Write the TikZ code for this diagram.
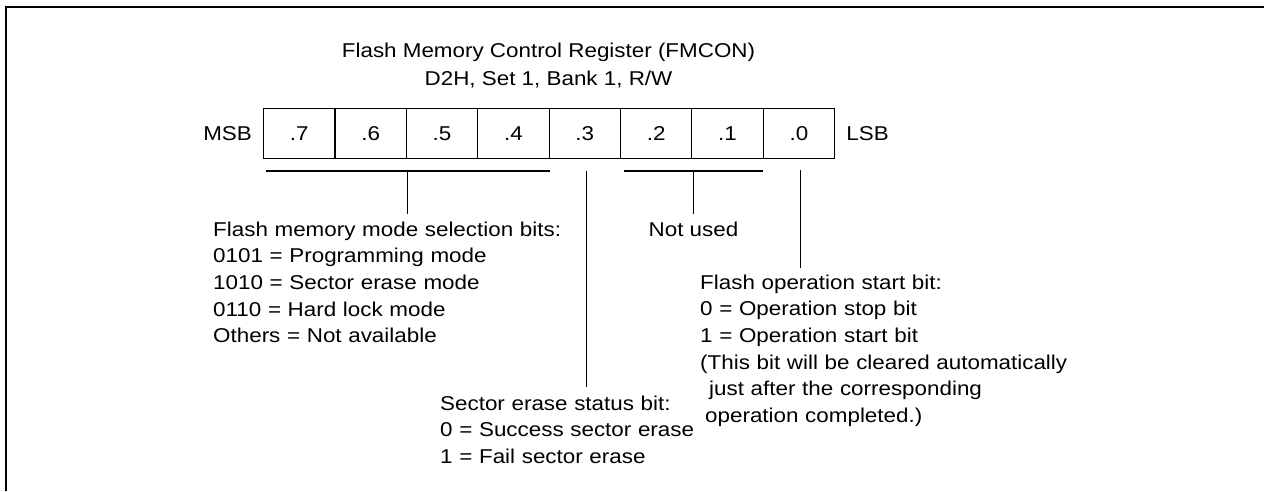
\documentclass[tikz,border=0pt]{standalone}
\usepackage{fontspec}
\setmainfont[FakeStretch=1.12]{Liberation Sans}
\begin{document}
\begin{tikzpicture}[x=1pt,y=-1pt,
  cell/.style={draw, line width=1.2pt, minimum width=71.375pt, minimum height=50pt, inner sep=0pt, anchor=north west, font=\fontsize{20}{24}\selectfont},
  lbl/.style={inner sep=0pt, font=\fontsize{20}{26.7}\selectfont},
  blk/.style={lbl, anchor=base west, align=left, text width=420pt},
  wire/.style={line width=1.2pt}]
\useasboundingbox (0,0) rectangle (1264,491);
\draw[line width=2pt] (6,491) -- (6,7) -- (1264,7);
% title
\node[lbl, anchor=base] (t1) at (548.5,57) {Flash Memory Control Register (FMCON)};
\node[lbl, anchor=base] (t2) at (548.5,85) {D2H, Set 1, Bank 1, R/W};
% register cells
\foreach \i/\b in {0/7,1/6,2/5,3/4,4/3,5/2,6/1,7/0}
  \node[cell] (c\b) at ({263+\i*71.375},108) {.\b};
\node[lbl, anchor=east] (msb) at ([xshift=-11pt]c7.west) {MSB};
\node[lbl, anchor=west] (lsb) at ([xshift=11pt]c0.east) {LSB};
% connector coordinates
\coordinate (b1l) at (265.5,171);
\coordinate (b1r) at (549.5,171);
\coordinate (b1m) at (407.5,171);
\coordinate (b1e) at (407.5,214);
\coordinate (b3t) at (586.5,171);
\coordinate (b3e) at (586.5,387);
\coordinate (b2l) at (623.5,171);
\coordinate (b2r) at (763,171);
\coordinate (b2m) at (693.5,171);
\coordinate (b2e) at (693.5,214);
\coordinate (b0t) at (800.5,170);
\coordinate (b0e) at (800.5,268);
\draw[wire] (b1l) -- (b1r);
\draw[wire] (b1m) -- (b1e);
\draw[wire] (b3t) -- (b3e);
\draw[wire] (b2l) -- (b2r);
\draw[wire] (b2m) -- (b2e);
\draw[wire] (b0t) -- (b0e);
% descriptions
\node[blk] (modes) at (213,236) {Flash memory mode selection bits:\\0101 = Programming mode\\1010 = Sector erase mode\\0110 = Hard lock mode\\Others = Not available};
\node[lbl, anchor=base] (nu) at (693.5,236) {Not used};
\node[blk] (ses) at (440,410) {Sector erase status bit:\\0 = Success sector erase\\1 = Fail sector erase};
\node[blk] (fos) at (700,289) {Flash operation start bit:\\0 = Operation stop bit\\1 = Operation start bit\\(This bit will be cleared automatically\\\hspace*{9pt}just after the corresponding\\\hspace*{5pt}operation completed.)};
\end{tikzpicture}
\end{document}
